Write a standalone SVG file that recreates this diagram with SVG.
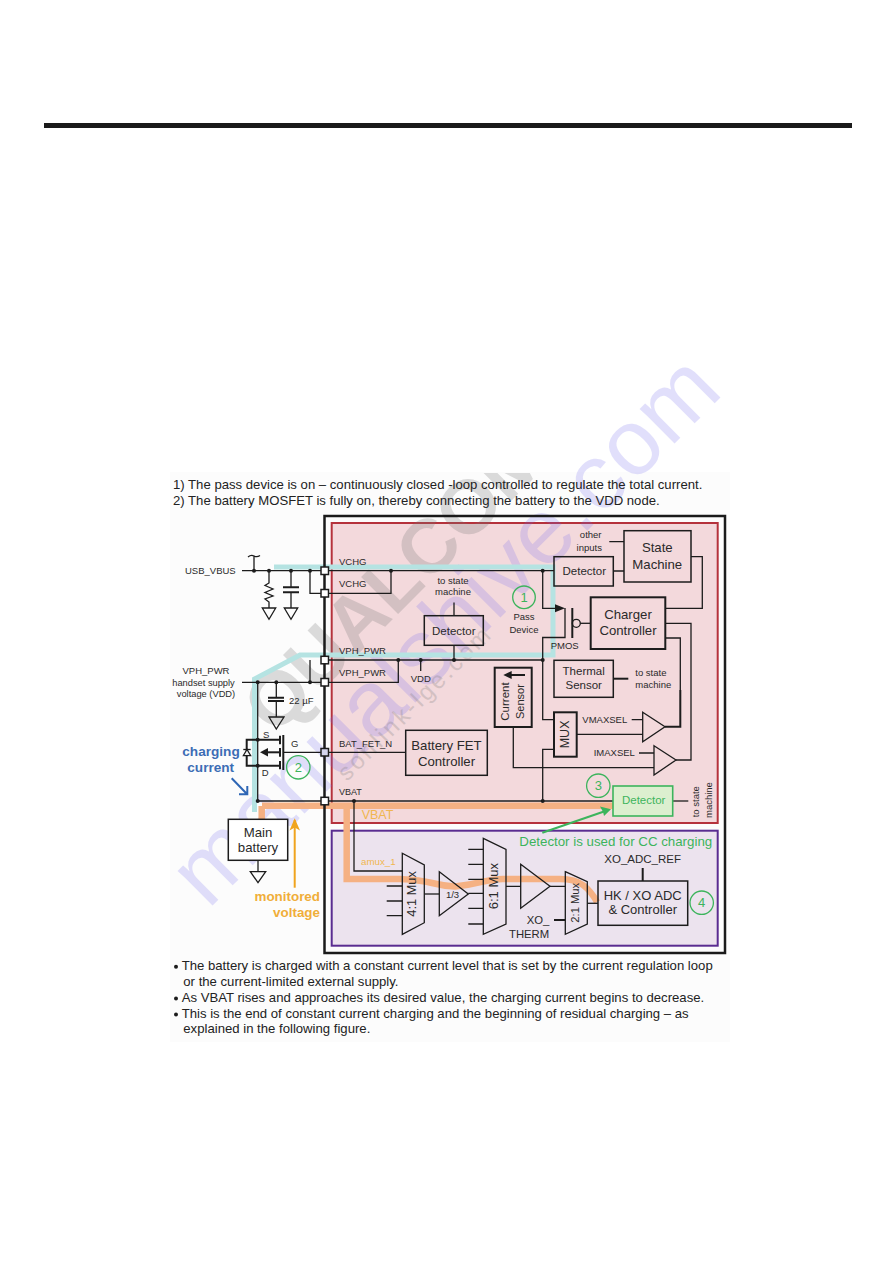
<svg xmlns="http://www.w3.org/2000/svg" width="893" height="1263" viewBox="0 0 893 1263">
<defs>
<style>
text{font-family:"Liberation Sans",Arial,sans-serif;fill:#2a2a2a}
.w{fill:none;stroke:#1c1c1c;stroke-width:1.3}
.b{fill:none;stroke:#1c1c1c;stroke-width:2}
.box{fill:none;stroke:#1c1c1c;stroke-width:1.5}
.tri{fill:none;stroke:#1c1c1c;stroke-width:1.3;stroke-linejoin:miter}
.dot{fill:#1c1c1c}
.pad{fill:#fff;stroke:#1c1c1c;stroke-width:1.5}
.cy{fill:none;stroke:#b5e3e2;stroke-width:5}
.or{fill:none;stroke:#f5b183;stroke-width:6.500}
.s9{font-size:9.500px}
.s10{font-size:11.500px}
.s12{font-size:13.200px}
.sm{font-size:9.500px}
.note{font-size:13.150px;fill:#222}
.gc{fill:none;stroke:#3cb45c;stroke-width:1.3}
.wmg{font-size:76px;font-weight:700;fill:#777;opacity:.25}
.wmv{font-size:93px;fill:#6f66f0;opacity:.2}
.wms{font-size:24px;fill:#777;opacity:.25}
.blue{font-size:13.600px;font-weight:700;fill:#3c6db5}
.amb{font-size:13.400px;font-weight:700;fill:#f0ae3a}
</style>
<clipPath id="pc"><rect x="165" y="473" width="570" height="570"/></clipPath>
</defs>
<rect width="893" height="1263" fill="#fff"/>
<rect x="44" y="123" width="808" height="5" fill="#1a1a1a"/>
<rect x="170" y="472" width="560" height="570" fill="#fcfcfc"/>
<g id="regions">
<rect x="331.700" y="523" width="386" height="300" fill="#f3d9dc" stroke="#b5323c" stroke-width="2"/>
<rect x="331.700" y="830.700" width="386" height="115" fill="#ece3ee" stroke="#5a2d91" stroke-width="2"/>
</g>
<g id="watermark">
<g clip-path="url(#pc)"><text class="wmg" transform="translate(275 737) rotate(-45)">QUALCOMM</text></g>
<text class="wmv" transform="translate(208 910) rotate(-45)" textLength="731" lengthAdjust="spacing">manualshive.com</text>
<text class="wms" transform="translate(347 782) rotate(-45)" textLength="205">sonlink-lge.com</text>
</g>
<g id="highlights">
<path class="cy" d="M274 567H553V655H300L254.500 679V812"/>
<path class="or" d="M262 805.700H613M261.700 806V819"/>
<path class="or" d="M346.700 806V879H400Q420 880 432 883T455 886.500Q470 885 483 881.700T506 879H560Q575 879 583 885T597 902"/>
</g>
<g id="outer-box"><rect x="324.500" y="516" width="400.500" height="437" fill="none" stroke="#1a1a1a" stroke-width="2.500"/></g>
<g id="connectors">
<path class="w" d="M242 570.700H324M324 570.700H554"/>
<path class="w" d="M254 570.700V556M248 557Q251 554.500 254 556Q257 557.500 260 555.500"/>
<path class="w" d="M269 570.700V583L265 585.500L273 589L265 592.500L273 596L265 599L269 602V608"/>
<path class="w" d="M291 570.700V587.300M291 592.300V608"/>
<path class="b" d="M283 587.300H299M283 592.300H299"/>
<path class="w" d="M310 570.700V593.300H324M391 570.700V593.300H324"/>
<path class="w" d="M310 660V682.300H324M242 682.300H324M324 682.300H398.300V660M324 660H542.700"/>
<path class="w" d="M257.700 682.300V801"/>
<path class="w" d="M276.300 682.300V697.700M276.300 701V717"/>
<path class="b" d="M268 697.700H284M268 701H284"/>
<path class="w" d="M420.700 660V671"/>
<path class="w" d="M454 645V660M454 602.600V615.700"/>
<path class="w" d="M283.300 752.300H405.700"/>
<path class="b" d="M283.300 735V770M280 735.700V744.300M280 748V756.700M280 761V769.300"/>
<path class="b" d="M280 739.700H246.700V765.700H280"/>
<path class="b" d="M280 752.300H266"/>
<path fill="#1c1c1c" d="M260 752.300L268 748V756.600Z"/>
<path fill="#f3f3f3" stroke="#1c1c1c" stroke-width="1.200" d="M243.300 755.700H250.700L247 749.500Z"/>
<path class="w" d="M243.300 749.500H250.700"/>
<path class="w" d="M257.700 801H613"/>
<path class="w" d="M354 801V871H402.300"/>
<path class="w" d="M258 860.300V871.700"/>
<path class="w" d="M542.700 570.700V608.300H556"/>
<path fill="#1c1c1c" d="M565 608.300L555 604.300V612.300Z"/>
<path class="w" d="M565 608V637.500H542.700V719.700H554M554 749.300H542.700V801"/>
<path class="b" d="M572.300 608V638"/>
<circle cx="576.300" cy="623.300" r="4" fill="none" stroke="#1c1c1c" stroke-width="1.300"/>
<path class="w" d="M580.300 623.300H590.700"/>
<path class="w" d="M613.300 571H624M609.300 541.700H624"/>
<path class="w" d="M691 556.700H702.300V608.300H665.300"/>
<path class="w" d="M665.300 623.300H691V760H676"/>
<path class="w" d="M665.300 638H680.300V690"/>
<path class="b" d="M680.300 690V726.700H665"/>
<path class="b" d="M613.300 678.700H628.300"/>
<path class="w" d="M576.700 734.300H642.700M631.700 719.700H642.700M639 753H654M513.300 727V767.700H654"/>
<path class="w" d="M672.700 801H688.300"/>
<path class="w" d="M386.700 886H402.300M386.700 901H402.300M386.700 915.700H402.300"/>
<path class="w" d="M424.300 894H439.300"/>
<path class="w" d="M468.300 849.300H483.300M468.300 864.300H483.300M468.300 879.300H483.300M468.300 893.300H483.300M468.300 908.300H483.300M468.300 924H483.300"/>
<path class="w" d="M506 886.300H520.700M550 886.300H565.300"/>
<path class="b" d="M554 920H565.300"/>
<path class="w" d="M587.300 903.300H598"/>
<path class="b" d="M642.700 868V881"/>
<path fill="none" stroke="#2e66b5" stroke-width="2" d="M231.700 778.300L246.700 793.700M247.300 786V794.300H239"/>
<path fill="none" stroke="#f0a41e" stroke-width="2" d="M294.700 887.700V820"/>
<path fill="#f0a41e" d="M294.700 818.300L300 830.500L294.700 827.500L289.500 830.500Z"/>
<path fill="none" stroke="#3cb45c" stroke-width="2" d="M542.300 832.700L604 811.500"/>
<path fill="#3cb45c" d="M611 809.300L600 806.500L603 811.800L604 816Z"/>
<path fill="none" stroke="#1c1c1c" stroke-width="2" d="M511 675H525"/>
<path fill="#1c1c1c" d="M503.300 675L511.700 671V679Z"/>
<circle class="dot" cx="254" cy="570.700" r="2"/><circle class="dot" cx="269" cy="570.700" r="2"/><circle class="dot" cx="291" cy="570.700" r="2"/><circle class="dot" cx="310" cy="570.700" r="2"/><circle class="dot" cx="391" cy="570.700" r="2"/><circle class="dot" cx="542.700" cy="570.700" r="2"/>
<circle class="dot" cx="257.700" cy="682.300" r="2"/><circle class="dot" cx="276.300" cy="682.300" r="2"/><circle class="dot" cx="310" cy="682.300" r="2"/><circle class="dot" cx="398.300" cy="660" r="2"/><circle class="dot" cx="420.700" cy="660" r="2"/><circle class="dot" cx="454" cy="660" r="2"/><circle class="dot" cx="542.700" cy="660" r="2"/>
<circle class="dot" cx="257.700" cy="739.700" r="2"/><circle class="dot" cx="257.700" cy="765.700" r="2"/><circle class="dot" cx="257.700" cy="801" r="2"/><circle class="dot" cx="354" cy="801" r="2"/><circle class="dot" cx="542.700" cy="801" r="2"/>
<rect class="pad" x="321" y="567" width="7.500" height="7.500"/><rect class="pad" x="321" y="589.500" width="7.500" height="7.500"/><rect class="pad" x="321" y="656.300" width="7.500" height="7.500"/><rect class="pad" x="321" y="678.500" width="7.500" height="7.500"/><rect class="pad" x="321" y="748.500" width="7.500" height="7.500" style="fill:#d5d5ef"/><rect class="pad" x="321" y="797.300" width="7.500" height="7.500"/>
<path class="tri" d="M262.300 608H275.700L269 619.300ZM284.300 608H297.700L291 619.300ZM269 717H284L276.300 729ZM250.300 871.700H265.700L258 882.700Z"/>
</g>
<g id="detector1"><rect class="box" x="424.300" y="615.700" width="59" height="29.600"/><text class="s10" x="453.800" y="634.500" text-anchor="middle">Detector</text></g>
<g id="detector2"><rect class="box" x="554" y="556.700" width="59.300" height="29.300"/><text class="s10" x="584.300" y="574.800" text-anchor="middle">Detector</text></g>
<g id="state-machine"><rect class="box" x="624" y="530.700" width="67" height="51.300"/><text class="s12" x="657.300" y="552.300" text-anchor="middle">State</text><text class="s12" x="657.300" y="568.700" text-anchor="middle">Machine</text></g>
<g id="charger-controller"><rect class="b" x="590.700" y="597.300" width="74.600" height="51.700"/><text class="s12" x="628" y="619.300" text-anchor="middle">Charger</text><text class="s12" x="628" y="635" text-anchor="middle">Controller</text></g>
<g id="thermal-sensor"><rect class="box" x="554" y="660.300" width="59.300" height="37"/><text class="s10" x="583.700" y="675" text-anchor="middle">Thermal</text><text class="s10" x="583.700" y="689.300" text-anchor="middle">Sensor</text></g>
<g id="current-sensor"><rect class="b" x="494.700" y="667.700" width="37" height="59.300"/><text font-size="11.500" transform="translate(509.300 720.700) rotate(-90)">Current</text><text font-size="11" transform="translate(524 719) rotate(-90)">Sensor</text></g>
<g id="mux"><rect class="b" x="554" y="712.300" width="22.700" height="44.400"/><text font-size="12.500" transform="translate(569 748.300) rotate(-90)">MUX</text></g>
<g id="battery-fet"><rect class="box" x="405.700" y="730.300" width="81.600" height="45"/><text class="s12" x="446.500" y="749.600" text-anchor="middle">Battery FET</text><text class="s12" x="446.500" y="765.600" text-anchor="middle">Controller</text></g>
<g id="detector3"><rect x="613" y="786" width="59.700" height="30" fill="#dcefcf" stroke="#3cb45c" stroke-width="1.600"/><text class="s10" x="643.700" y="804.300" text-anchor="middle" style="fill:#3cb45c">Detector</text></g>
<g id="main-battery"><rect x="228.300" y="819.300" width="59.400" height="41" fill="#fff" stroke="#1c1c1c" stroke-width="1.500"/><text class="s12" x="258" y="836.700" text-anchor="middle">Main</text><text class="s12" x="258" y="851.700" text-anchor="middle">battery</text></g>
<g id="hk-adc"><rect class="box" x="598" y="881" width="89.700" height="44.300"/><text font-size="13" x="642.700" y="900" text-anchor="middle">HK / XO ADC</text><text font-size="13" x="642.700" y="914.300" text-anchor="middle">&amp; Controller</text></g>
<g id="amps">
<path class="tri" d="M642.700 712.300L665 726.700L642.700 741.700Z"/>
<path class="tri" d="M654 745.700L676 760L654 775Z"/>
<path class="tri" d="M439.300 871.700L468.300 894L439.300 915.700Z"/>
<path class="tri" d="M520.700 864.300L550 886.300L520.700 908.300Z"/>
</g>
<g id="mux41"><path class="tri" d="M402.300 853.300L424.300 865V922.700L402.300 934.300Z"/><text font-size="12.800" transform="translate(415.700 916.700) rotate(-90)">4:1 Mux</text></g>
<g id="mux61"><path class="tri" d="M483.300 838.300L506 849.300V924L483.300 934.300Z"/><text font-size="13" transform="translate(498.300 909.300) rotate(-90)">6:1 Mux</text></g>
<g id="mux21"><path class="tri" d="M565.300 871.700L587.300 881.700V924L565.300 934.300Z"/><text font-size="11.200" transform="translate(579.300 922.700) rotate(-90)">2:1 Mux</text></g>
<g id="circles">
<circle class="gc" cx="524" cy="597.300" r="11.300"/><text font-size="13" x="524" y="602" text-anchor="middle" style="fill:#3cb45c">1</text>
<circle class="gc" cx="298.300" cy="767.300" r="11.700"/><text font-size="13" x="298.300" y="772" text-anchor="middle" style="fill:#3cb45c">2</text>
<circle class="gc" cx="598.300" cy="785.700" r="11.700"/><text font-size="13" x="598.300" y="790.400" text-anchor="middle" style="fill:#3cb45c">3</text>
<circle class="gc" cx="701.700" cy="902.700" r="11.700"/><text font-size="13" x="701.700" y="907.400" text-anchor="middle" style="fill:#3cb45c">4</text>
</g>
<g id="labels">
<text class="note" x="173" y="489.300">1) The pass device is on – continuously closed -loop controlled to regulate the total current.</text>
<text class="note" x="173" y="505">2) The battery MOSFET is fully on, thereby connecting the battery to the VDD node.</text>
<text class="s9" x="185" y="574.300">USB_VBUS</text>
<text class="s9" x="339" y="565">VCHG</text><text class="s9" x="339" y="587">VCHG</text>
<text class="s9" x="339" y="653.700">VPH_PWR</text><text class="s9" x="339" y="676">VPH_PWR</text>
<text class="s9" x="410.700" y="682">VDD</text>
<text class="s9" x="339" y="746.500">BAT_FET_N</text>
<text font-size="9" x="339" y="795">VBAT</text>
<text class="s9" x="206" y="674" text-anchor="middle">VPH_PWR</text>
<text x="203.500" y="685.700" text-anchor="middle" font-size="9.300">handset supply</text>
<text x="206" y="697" text-anchor="middle" font-size="9.300">voltage  (VDD)</text>
<text class="s9" x="289" y="704">22 µF</text>
<text class="s9" x="263" y="737.500">S</text><text class="s9" x="291" y="746.500">G</text><text class="s9" x="261.700" y="776">D</text>
<text class="sm" x="453" y="583.500" text-anchor="middle">to state</text>
<text class="sm" x="453" y="595" text-anchor="middle">machine</text>
<text class="sm" x="524" y="620.300" text-anchor="middle">Pass</text>
<text class="sm" x="524" y="632.700" text-anchor="middle">Device</text>
<text class="sm" x="590.700" y="538.300" text-anchor="middle">other</text>
<text class="sm" x="589.300" y="550.700" text-anchor="middle">inputs</text>
<text class="s9" x="550.700" y="649.300">PMOS</text>
<text class="sm" x="635.300" y="675.700">to state</text>
<text class="sm" x="635.300" y="688.300">machine</text>
<text font-size="9.500" x="582.300" y="722.700">VMAXSEL</text>
<text font-size="9.500" x="593.700" y="756">IMAXSEL</text>
<text class="s9" transform="translate(699.300 817.300) rotate(-90)">to state</text>
<text class="s9" transform="translate(711.700 818) rotate(-90)">machine</text>
<text x="361.700" y="819.300" font-size="12.500" style="fill:#f0b650">VBAT</text>
<text x="361" y="865" font-size="9.750" style="fill:#f0b650">amux_1</text>
<text x="519.300" y="845.700" font-size="13.300" style="fill:#3cb45c">Detector is used for CC charging</text>
<text font-size="11.500" x="604.300" y="862.700">XO_ADC_REF</text>
<text font-size="11.300" x="526.700" y="924">XO_</text>
<text font-size="11.300" x="509" y="938.300">THERM</text>
<text x="452.500" y="898" text-anchor="middle" font-size="9.500">1/3</text>
<text class="blue" x="211" y="756" text-anchor="middle">charging</text>
<text class="blue" x="210.700" y="772.300" text-anchor="middle">current</text>
<text class="amb" x="320" y="901" text-anchor="end">monitored</text>
<text class="amb" x="320" y="917.300" text-anchor="end">voltage</text>
<text class="note" x="181.700" y="970">The battery is charged with a constant current level that is set by the current regulation loop</text>
<text class="note" x="183.300" y="985.700">or the current-limited external supply.</text>
<text class="note" x="181.700" y="1002.300">As VBAT rises and approaches its desired value, the charging current begins to decrease.</text>
<text class="note" x="181.700" y="1018.300">This is the end of constant current charging and the beginning of residual charging – as</text>
<text class="note" x="183.300" y="1032.700">explained in the following figure.</text>
<circle class="dot" cx="176" cy="966.700" r="2"/><circle class="dot" cx="176" cy="998.500" r="2"/><circle class="dot" cx="176" cy="1014.500" r="2"/>
</g>
</svg>
